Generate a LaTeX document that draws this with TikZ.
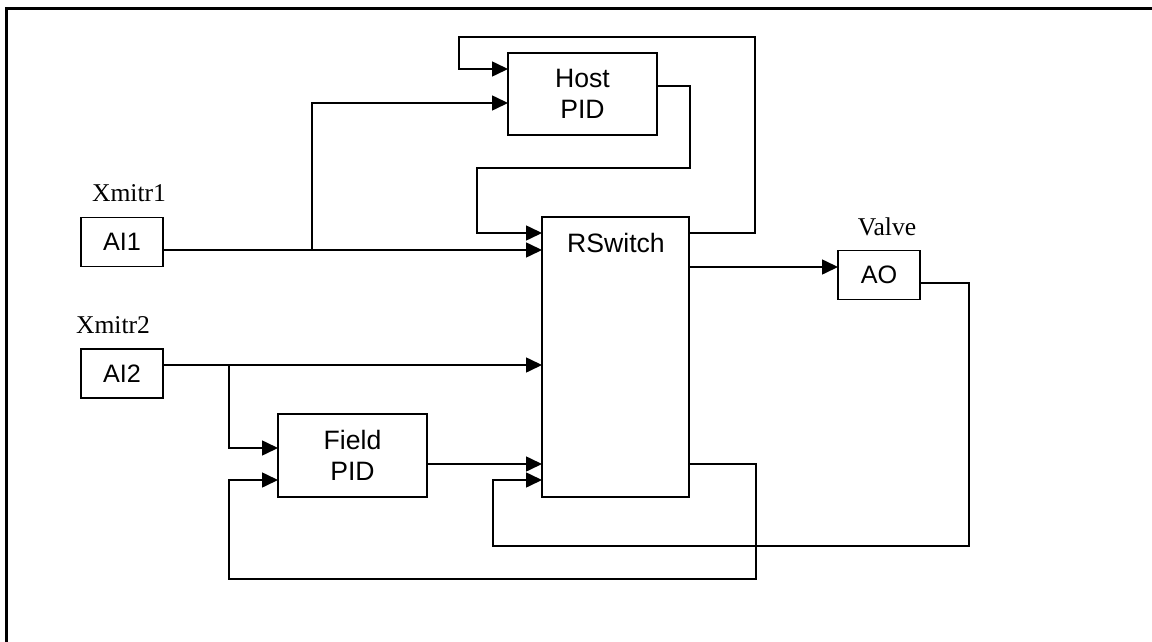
\documentclass[tikz,border=0pt]{standalone}
\usepackage{fontspec}
\setmainfont{Liberation Serif}
\setsansfont{Liberation Sans}
\usetikzlibrary{positioning, arrows.meta}

\begin{document}
\begin{tikzpicture}[
    x=0.5pt, y=-0.5pt,
    line width=0.8pt,
    every node/.style={inner sep=0pt, outer sep=0pt},
    blk/.style={draw, rectangle, align=center, font=\sffamily\fontsize{13.3}{15.5}\selectfont},
    blktext/.style={font=\sffamily\fontsize{13.3}{15.5}\selectfont},
    io/.style={draw, rectangle, minimum width=41pt, minimum height=24.5pt, font=\sffamily\fontsize{12.6}{14}\selectfont},
    tag/.style={font=\fontsize{12.8}{15}\selectfont},
    >={Triangle[length=8pt, width=7.5pt]}
]
\useasboundingbox (0,0) rectangle (1152,642);
\draw[line width=1.5pt] (6,642) -- (6,9) -- (1152,9);

\node[io] (ai1) at (122,242) {AI1};
\node[io] (ai2) at (122,373.5) {AI2};
\node[io] (ao) at (879,275) {AO};
\node[tag] (xmitr1) at (129,193) {Xmitr1};
\node[tag] (xmitr2) at (113,325) {Xmitr2};
\node[tag] (valve) at (887,227) {Valve};

\node[blk, minimum width=74.5pt, minimum height=41pt] (host) at (582.5,94) {Host\\PID};
\node[blk, minimum width=74.5pt, minimum height=41.5pt] (field) at (352.5,455.5) {Field\\PID};
\node[draw, rectangle, minimum width=73.5pt, minimum height=140pt] (rswitch) at (615.5,357) {};
\node[blktext] (rslabel) at (616,243) {RSwitch};

\draw[->] (ai1.east |- 0,250) -- (rswitch.west |- 0,250);
\draw[->] (312,250) -- (312,103) -- (host.west |- 0,103);
\draw[->] (ai2.east |- 0,365) -- (rswitch.west |- 0,365);
\draw[->] (229,365) -- (229,448) -- (field.west |- 0,448);
\draw[->] (field.east |- 0,464) -- (rswitch.west |- 0,464);
\draw[->] (host.east |- 0,86) -| (690,168) -| (477,233) -- (rswitch.west |- 0,233);
\draw[->] (rswitch.east |- 0,233) -| (755,37) -| (459,69) -- (host.west |- 0,69);
\draw[->] (rswitch.east |- 0,267) -- (ao.west |- 0,267);
\draw[->] (ao.east |- 0,283) -| (969,546) -| (493,480) -- (rswitch.west |- 0,480);
\draw[->] (rswitch.east |- 0,464) -| (756,579) -| (229,480) -- (field.west |- 0,480);
\end{tikzpicture}
\end{document}
